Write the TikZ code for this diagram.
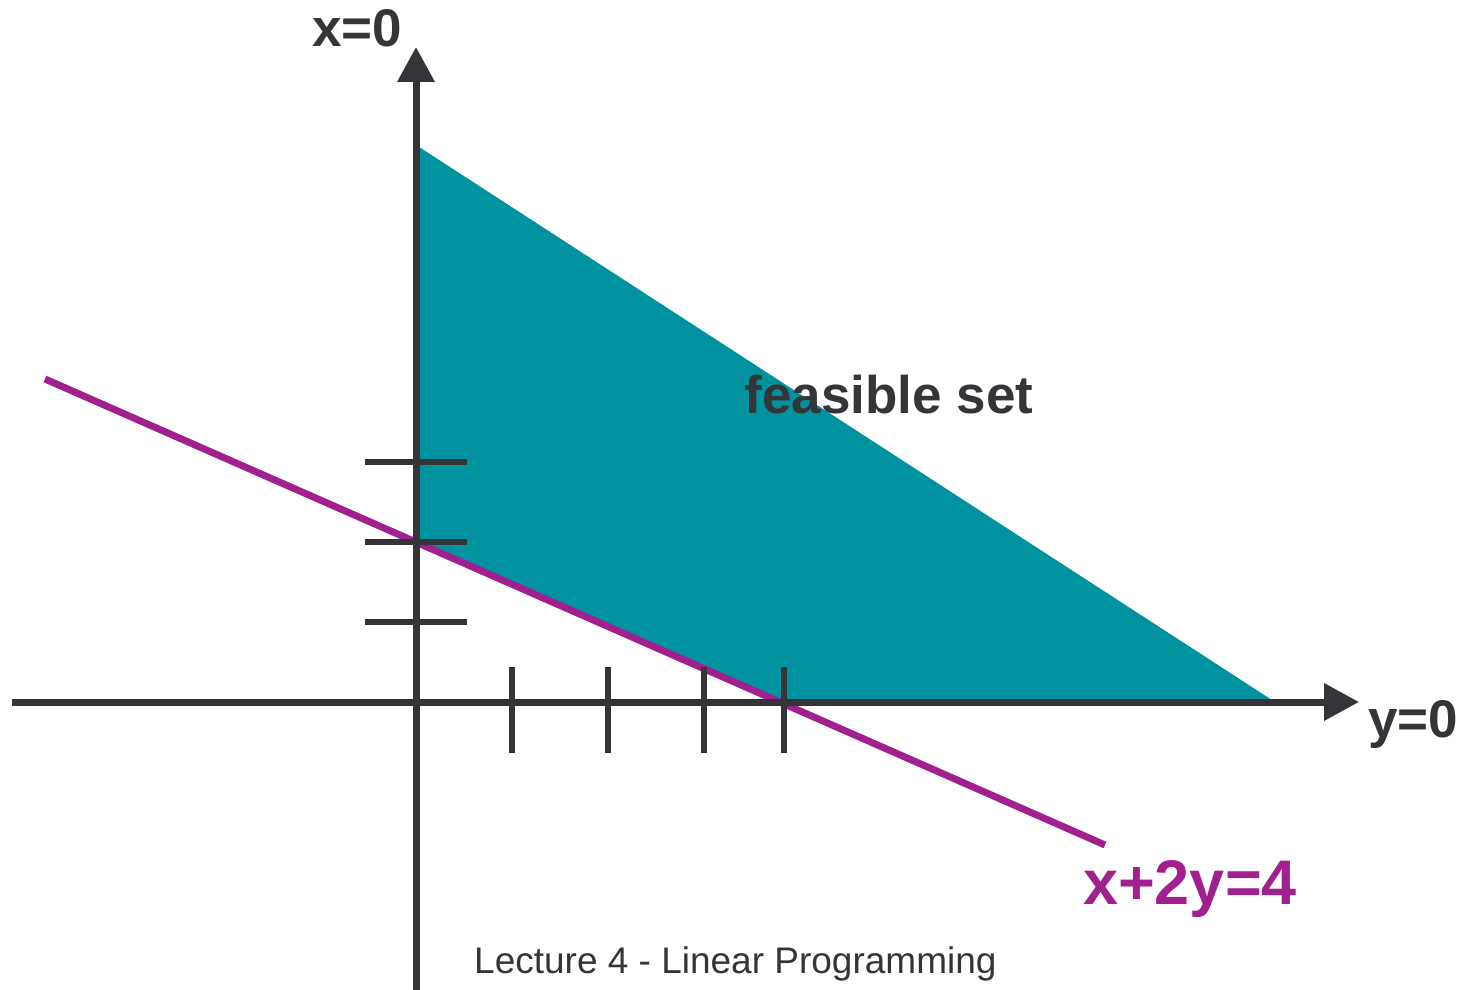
\documentclass[tikz,border=0pt]{standalone}
\usepackage{fontspec}
\setmainfont{Liberation Sans}
\usetikzlibrary{arrows.meta}
\definecolor{axisgray}{HTML}{353438}
\definecolor{regionteal}{HTML}{00929F}
\definecolor{linemagenta}{HTML}{A1208F}
\tikzset{
  axisline/.style={draw=axisgray, line width=7pt, -{Triangle[length=35pt,width=36pt]}},
  tickline/.style={draw=axisgray, line width=6pt},
  constraint/.style={draw=linemagenta, line width=7pt},
  bigbold/.style={font=\fontsize{53}{60}\selectfont\bfseries, text=axisgray, inner sep=0pt, anchor=base},
}
\begin{document}
\begin{tikzpicture}[x=1pt,y=-1pt]
\useasboundingbox (0,0) rectangle (1465,990);
% feasible region
\fill[regionteal] (416,145) -- (1275,702) -- (784,702) -- (416,542) -- cycle;
% axes
\coordinate (vb) at (416,990);
\coordinate (vt) at (416,47);
\coordinate (hl) at (12,702);
\coordinate (hr) at (1359,702);
% constraint line
\coordinate (ca) at (45,379);
\coordinate (cb) at (1105,845);
\draw[constraint] (ca) -- (cb);
\draw[axisline] (vb) -- (vt);
\draw[axisline] (hl) -- (hr);
% ticks on vertical axis
\foreach \y [count=\i] in {462,542,622} {
  \coordinate (vl\i) at (365,\y);
  \coordinate (vr\i) at (467,\y);
  \draw[tickline] (vl\i) -- (vr\i);
}
% ticks on horizontal axis
\foreach \x [count=\i] in {512,608,704,784} {
  \coordinate (ht\i) at (\x,667);
  \coordinate (hb\i) at (\x,753);
  \draw[tickline] (ht\i) -- (hb\i);
}
% labels
\node[bigbold] (xlab) at (357,47) {x=0};
\node[bigbold] (ylab) at (1413,737) {y=0};
\node[bigbold] (feas) at (889,413) {feasible set};
\node[bigbold, text=linemagenta, font=\fontsize{63}{70}\selectfont\bfseries] (eq) at (1190,904) {x+2y=4};
\node[font=\fontsize{37}{44}\selectfont, text=axisgray, inner sep=0pt, anchor=base west] (foot) at (474,973) {Lecture 4 - Linear Programming};
\end{tikzpicture}
\end{document}
